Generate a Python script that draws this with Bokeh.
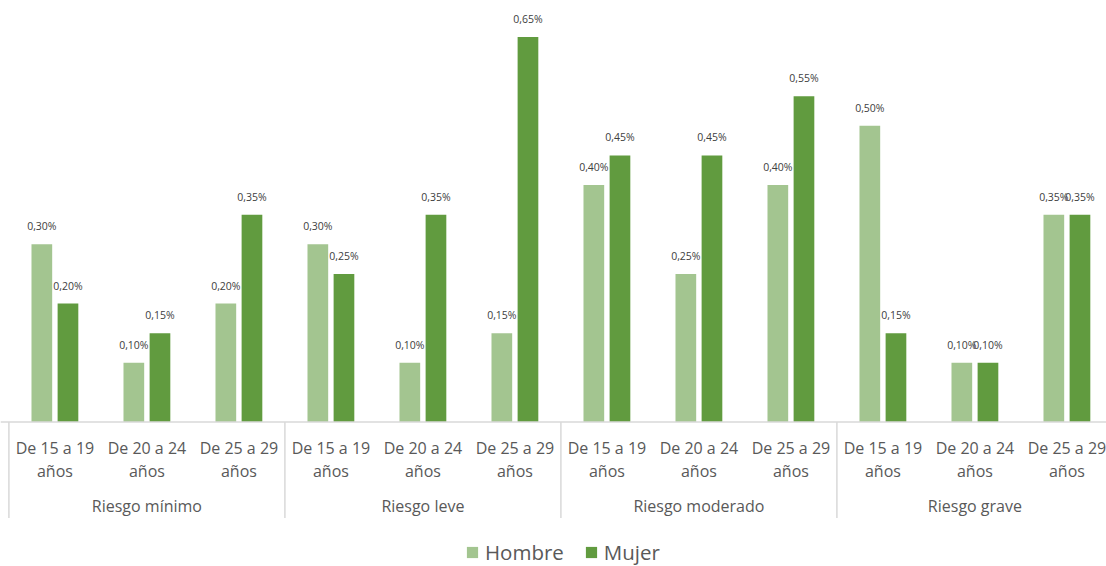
from bokeh.plotting import figure
from bokeh.models import ColumnDataSource, Range1d, Span, Legend, LegendItem
from bokeh.transform import dodge
from bokeh.core.properties import value
from bokeh.embed import file_html
from bokeh.resources import INLINE

# ---- data ----
riesgos = ["Riesgo mínimo", "Riesgo leve", "Riesgo moderado", "Riesgo grave"]
edades = ["De 15 a 19 años", "De 20 a 24 años", "De 25 a 29 años"]
hombre = [0.30, 0.10, 0.20, 0.30, 0.10, 0.15, 0.40, 0.25, 0.40, 0.50, 0.10, 0.35]
mujer = [0.20, 0.15, 0.35, 0.25, 0.35, 0.65, 0.45, 0.45, 0.55, 0.15, 0.10, 0.35]

C_H = "#A3C590"
C_M = "#619B3F"
GRAY = "#595959"
FONT = "Open Sans"

n = len(hombre)
xs = [i + 0.5 for i in range(n)]
fmt = lambda v: f"{v:.2f}".replace(".", ",") + "%"
src = ColumnDataSource(dict(
    x=xs, h=hombre, m=mujer,
    hl=[fmt(v) for v in hombre], ml=[fmt(v) for v in mujer],
    l1=[edades[i % 3].rsplit(" ", 1)[0] for i in range(n)],
    l2=[edades[i % 3].rsplit(" ", 1)[1] for i in range(n)],
))

W, H = 1106, 566
ppu_x = 92.0
x0 = -8.4 / ppu_x
ppu_y = 592.3
base = 421.5
p = figure(width=W, height=H, output_backend="svg", toolbar_location=None,
           x_range=Range1d(x0, x0 + W / ppu_x),
           y_range=Range1d(-(H - base) / ppu_y, base / ppu_y),
           min_border=0, min_border_left=0, min_border_right=0,
           min_border_top=0, min_border_bottom=0)
p.axis.visible = False
p.grid.visible = False
p.outline_line_color = None
p.background_fill_color = "white"
p.border_fill_color = "white"

off = 0.142
bw = 0.225
rh = p.vbar(x=dodge("x", -off, range=p.x_range), top="h", bottom=0, width=bw, source=src,
            fill_color=C_H, line_color=None)
rm = p.vbar(x=dodge("x", off, range=p.x_range), top="m", bottom=0, width=bw, source=src,
            fill_color=C_M, line_color=None)

p.text(x=dodge("x", -off, range=p.x_range), y="h", text="hl", source=src, y_offset=-18,
       text_align="center", text_baseline="middle", text_font=value(FONT),
       text_font_size="10.5px", text_color="#404040")
p.text(x=dodge("x", off, range=p.x_range), y="m", text="ml", source=src, y_offset=-18,
       text_align="center", text_baseline="middle", text_font=value(FONT),
       text_font_size="10.5px", text_color="#404040")

# category axis
p.add_layout(Span(location=0, dimension="width", line_color="#D9D9D9", line_width=1.5))
p.text(x="x", y=0, text="l1", source=src, y_offset=26, text_align="center",
       text_baseline="middle", text_font=value(FONT), text_font_size="16px", text_color=GRAY)
p.text(x="x", y=0, text="l2", source=src, y_offset=49, text_align="center",
       text_baseline="middle", text_font=value(FONT), text_font_size="16px", text_color=GRAY)
gsrc = ColumnDataSource(dict(x=[3 * g + 1.5 for g in range(len(riesgos))], t=riesgos,
                             s=[3 * g for g in range(len(riesgos))]))
p.text(x="x", y=0, text="t", source=gsrc, y_offset=84, text_align="center",
       text_baseline="middle", text_font=value(FONT), text_font_size="16px", text_color=GRAY)
p.ray(x="s", y=0, source=gsrc, length=96, length_units="screen", angle=-1.5707963,
      line_color="#D9D9D9", line_width=1.5)

legend = Legend(items=[LegendItem(label="Hombre", renderers=[rh]),
                       LegendItem(label="Mujer", renderers=[rm])],
                orientation="horizontal", location=(465, 0),
                glyph_width=14, glyph_height=14, label_standoff=6, spacing=20,
                padding=0, margin=0, border_line_color=None, background_fill_alpha=0,
                label_text_font=FONT, label_text_font_size="20.5px", label_text_color=GRAY)
p.add_layout(legend, "center")

open("out.html", "w").write(file_html(p, INLINE))
